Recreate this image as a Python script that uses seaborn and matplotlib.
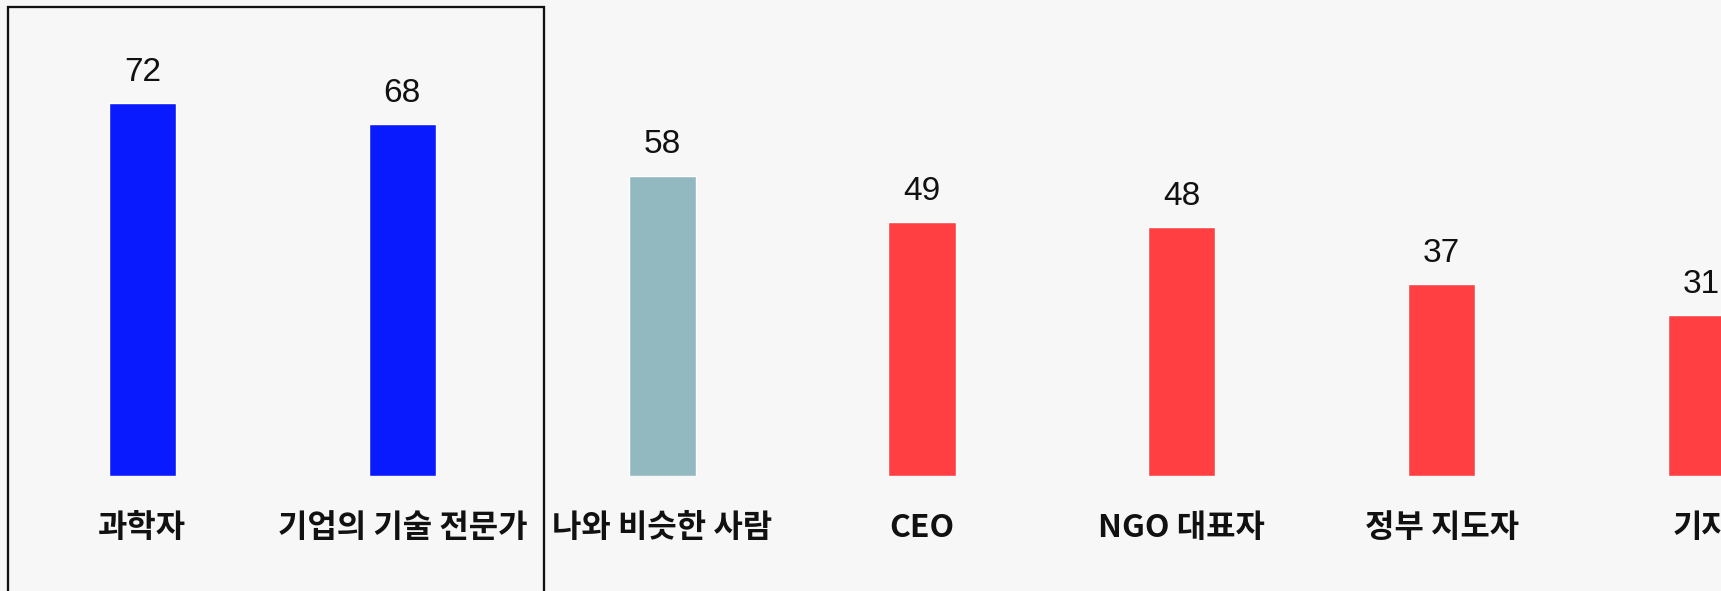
import matplotlib
matplotlib.use("Agg")
import matplotlib.pyplot as plt
import seaborn as sns
from matplotlib.patches import Rectangle

# ===============================
# DATA
# ===============================

groups = ["과학자", "기업의 기술 전문가", "나와 비슷한 사람", "CEO", "NGO 대표자", "정부 지도자", "기자"]
scores = [72, 68, 58, 49, 48, 37, 31]
bar_colors = ["#0A1AFF", "#0A1AFF", "#93B9C0", "#FF3F42", "#FF3F42", "#FF3F42", "#FF3F42"]

# ===============================
# STYLE
# ===============================

sns.set_style("white")
plt.rcParams["font.family"] = ["Noto Sans CJK KR", "DejaVu Sans"]
bg = "#F7F7F7"

fig = plt.figure(figsize=(17.21, 5.91), dpi=100, facecolor=bg)
ax = fig.add_axes([0, 115.5 / 591, 1, 475.5 / 591])
ax.set_facecolor(bg)

sns.barplot(x=groups, y=scores, hue=groups, palette=bar_colors,
            width=0.258, legend=False, saturation=1, ax=ax)

ax.set_xlim(-0.5484, 6.075)
ax.set_ylim(0, 475.5 / 5.17)

# value labels
for cont in ax.containers:
    ax.bar_label(cont, padding=11, fontsize=24, family="Liberation Sans", color="#111111")

# category labels
ax.tick_params(axis="x", length=0, pad=38, labelsize=23)
for t in ax.get_xticklabels():
    t.set_fontweight("bold")
    t.set_color("#111111")
    t.set_va("center")
ax.set_yticks([])
ax.set_xlabel("")
ax.set_ylabel("")
sns.despine(ax=ax, left=True, bottom=True)

# highlight frame around the first two bars
ax.add_patch(Rectangle((-0.5176, -40), 1.5452 + 0.5176, 90.58 + 40,
                       fill=False, edgecolor="#111111", lw=1.65, clip_on=False))

fig.savefig("out.png", dpi=100, facecolor=bg)
